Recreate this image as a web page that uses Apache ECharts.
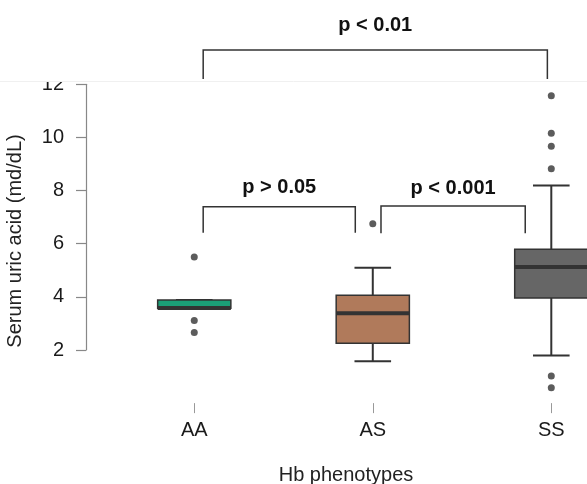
<!DOCTYPE html>
<html>
<head>
<meta charset="UTF-8">
<title></title>
<script src="https://cdn.jsdelivr.net/npm/echarts@6/dist/echarts.min.js"></script>
<style type="text/css">
	*{margin:0;padding:0;}
	body{background:#fff;}
	#main{width:587px;height:484px;}
</style>
</head>
<body>
<div id="main"></div>
<script type="text/javascript">
// 各组的箱线图数值
var categories = ['AA', 'AS', 'SS'];
var categoryPos = [0, 1, 2];
var lowerWhisker = [3.57, 1.58, 1.79];
var q1 = [3.57, 2.25, 3.96];
var median = [3.58, 3.38, 5.12];
var q3 = [3.88, 4.06, 5.79];
var upperWhisker = [3.88, 5.10, 8.19];
var outliersAA = [5.5, 3.11, 2.66];
var outliersAS = [6.75];
var outliersSS = [11.57, 10.16, 9.67, 8.82, 1.02, 0.58];
var yTickMin = 2, yTickMax = 12, yTickStep = 2;

// 显著性标注
var bracketLabels = ['p < 0.01', 'p > 0.05', 'p < 0.001'];
var bracketFrom = [0.05, 0.05, 1.046];
var bracketTo = [1.978, 0.902, 1.854];
var bracketY = [13.29, 7.39, 7.42];
var bracketLeg = [12.2, 6.41, 6.39];
var bracketTextY = [14.23, 8.1, 8.09];

var boxColors = ['#1B9E77', '#B07A5B', '#666666'];
var font = 'Liberation Sans, Arial, sans-serif';

var boxData = categories.map(function (c, i) {
	return [categoryPos[i], lowerWhisker[i], q1[i], median[i], q3[i], upperWhisker[i]];
});
var outlierData = [];
outliersAA.forEach(function (v) { outlierData.push([categoryPos[0], v]); });
outliersAS.forEach(function (v) { outlierData.push([categoryPos[1], v]); });
outliersSS.forEach(function (v) { outlierData.push([categoryPos[2], v]); });
var bracketData = bracketLabels.map(function (t, i) {
	return [bracketFrom[i], bracketTo[i], bracketY[i], bracketLeg[i], bracketTextY[i]];
});

function renderBox(params, api) {
	var i = api.value(0);
	var bw = api.size([1, 0])[0];
	var boxW = bw * 0.41, capW = boxW / 2;
	var cx = api.coord([i, 0])[0];
	var yLw = api.coord([i, api.value(1)])[1];
	var yQ1 = api.coord([i, api.value(2)])[1];
	var yMed = api.coord([i, api.value(3)])[1];
	var yQ3 = api.coord([i, api.value(4)])[1];
	var yUw = api.coord([i, api.value(5)])[1];
	var ln = {stroke: '#333', lineWidth: 2};
	return {
		type: 'group',
		children: [
			{type: 'line', shape: {x1: cx, y1: yUw, x2: cx, y2: yQ3}, style: ln},
			{type: 'line', shape: {x1: cx, y1: yQ1, x2: cx, y2: yLw}, style: ln},
			{type: 'line', shape: {x1: cx - capW / 2, y1: yUw, x2: cx + capW / 2, y2: yUw}, style: ln},
			{type: 'line', shape: {x1: cx - capW / 2, y1: yLw, x2: cx + capW / 2, y2: yLw}, style: ln},
			{type: 'rect', shape: {x: cx - boxW / 2, y: yQ3, width: boxW, height: yQ1 - yQ3},
				style: {fill: boxColors[params.dataIndex], stroke: '#333', lineWidth: 1.5}},
			{type: 'line', shape: {x1: cx - boxW / 2, y1: yMed, x2: cx + boxW / 2, y2: yMed},
				style: {stroke: '#333', lineWidth: 4}}
		]
	};
}

function renderBracket(params, api) {
	var bw = api.size([1, 0])[0];
	var x0 = api.coord([0, 0])[0];
	var xa = x0 + api.value(0) * bw;
	var xb = x0 + api.value(1) * bw;
	var yTop = api.coord([0, api.value(2)])[1];
	var yLeg = api.coord([0, api.value(3)])[1];
	var yTxt = api.coord([0, api.value(4)])[1];
	return {
		type: 'group',
		children: [
			{type: 'polyline', shape: {points: [[xa, yLeg], [xa, yTop], [xb, yTop], [xb, yLeg]]},
				style: {stroke: '#333', lineWidth: 1.5, fill: null}},
			{type: 'text', x: (xa + xb) / 2, y: yTxt,
				style: {text: bracketLabels[params.dataIndex], align: 'center', verticalAlign: 'middle',
					font: 'bold 20px ' + font, fill: '#111'}}
		]
	};
}

var myChart = echarts.init(document.getElementById('main'));
var option = {
	animation: false,
	backgroundColor: '#fff',
	grid: [
		{left: 105, top: 31.16, right: 0, height: 371.98, outerBoundsMode: 'none'},
		{left: 86, top: 84.3, width: 10, height: 265.7, outerBoundsMode: 'none'}
	],
	xAxis: [
		{
			type: 'value', gridIndex: 0, min: -0.5, max: 2.2,
			axisLine: {show: false},
			axisTick: {show: true, length: 10, customValues: categoryPos, lineStyle: {color: '#999'}},
			axisLabel: {fontSize: 20, color: '#1a1a1a', margin: 17, fontFamily: font,
				customValues: categoryPos,
				formatter: function (v) { return categories[Math.round(v)]; }},
			splitLine: {show: false},
			name: 'Hb phenotypes', nameLocation: 'middle', nameGap: 62,
			nameTextStyle: {fontSize: 20, color: '#222', fontFamily: font}
		},
		{type: 'value', gridIndex: 1, show: false}
	],
	yAxis: [
		{type: 'value', gridIndex: 0, min: 0, max: 14, show: false},
		{
			type: 'value', gridIndex: 1, min: yTickMin, max: yTickMax, interval: yTickStep,
			axisLine: {show: true, lineStyle: {color: '#888', width: 1.2}},
			axisTick: {show: true, length: 10, lineStyle: {color: '#888', width: 1.2}},
			axisLabel: {fontSize: 20, color: '#1a1a1a', margin: 22, fontFamily: font},
			splitLine: {show: false}
		}
	],
	graphic: [
		{type: 'rect', z: 10, shape: {x: 0, y: 0, width: 587, height: 81}, style: {fill: '#fff'}},
		{type: 'line', z: 10, shape: {x1: 0, y1: 81.5, x2: 587, y2: 81.5}, style: {stroke: '#f0f0f0', lineWidth: 1}},
		{type: 'text', z: 10, x: 15, y: 241, rotation: Math.PI / 2,
			style: {text: 'Serum uric acid (md/dL)', align: 'center', verticalAlign: 'middle',
				font: '20px ' + font, fill: '#222'}}
	],
	series: [
		{
			type: 'custom', xAxisIndex: 0, yAxisIndex: 0, z: 3,
			renderItem: renderBox, data: boxData
		},
		{
			type: 'scatter', xAxisIndex: 0, yAxisIndex: 0, z: 4,
			symbolSize: 7, itemStyle: {color: '#333'}, data: outlierData
		},
		{
			type: 'custom', xAxisIndex: 0, yAxisIndex: 0, z: 20,
			renderItem: renderBracket, data: bracketData
		}
	]
};
myChart.setOption(option);
</script>
</body>
</html>
